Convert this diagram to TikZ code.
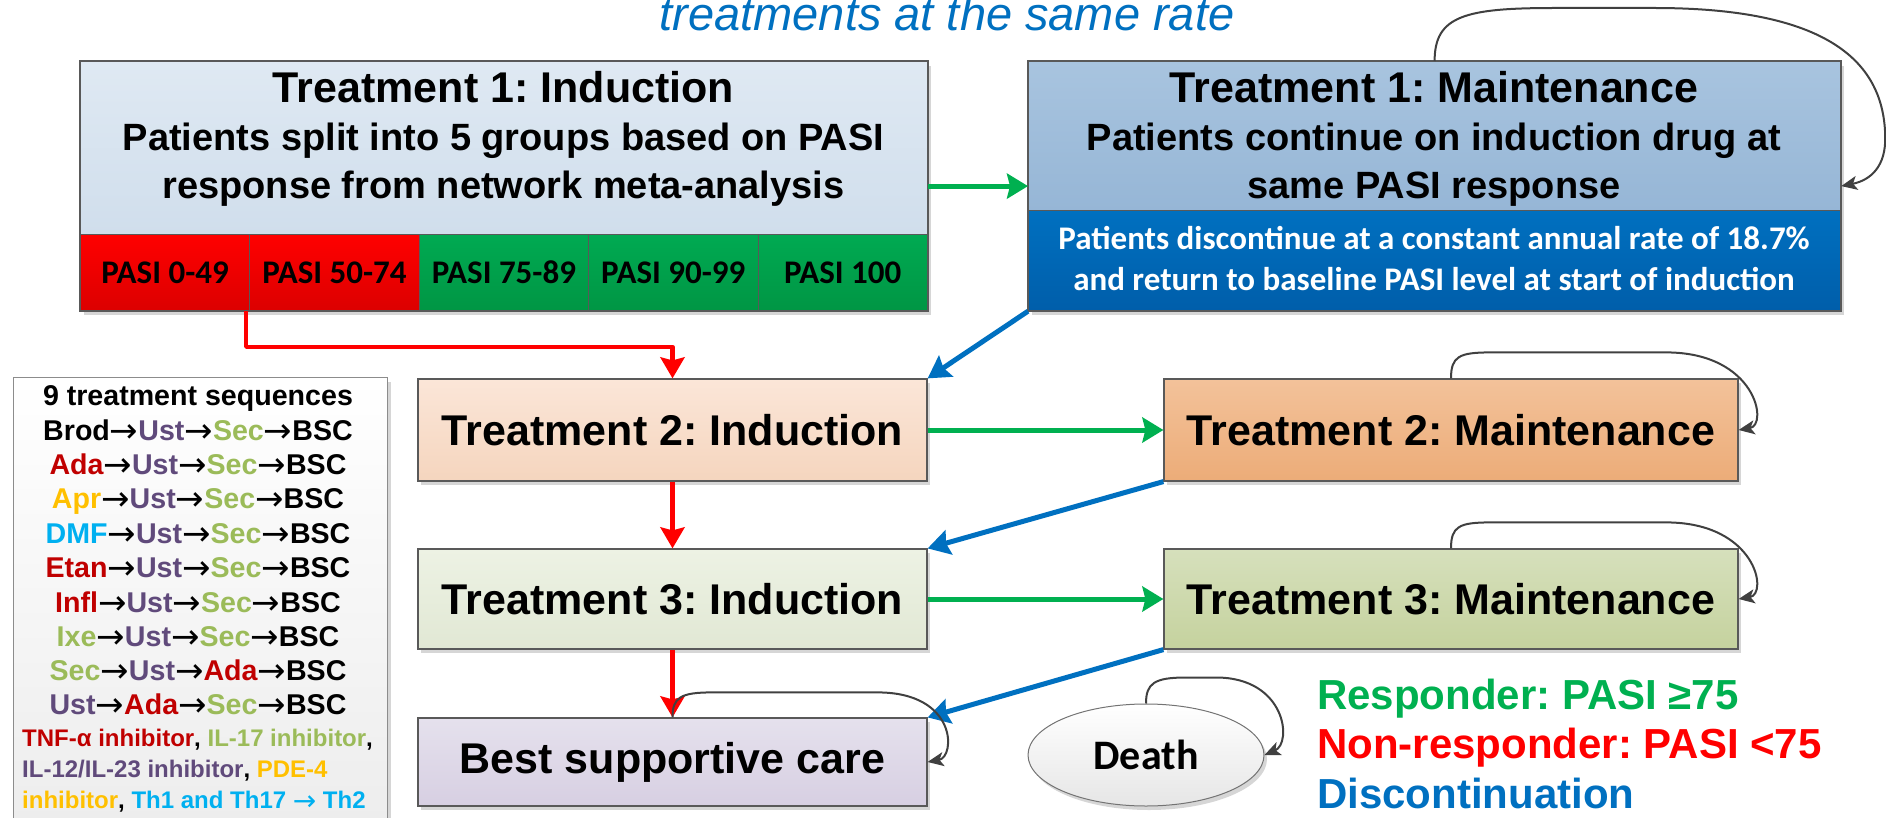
\documentclass[tikz,border=0pt]{standalone}
\usepackage{fontspec}
\setmainfont{Liberation Sans}
\newfontfamily\calib{Carlito}
\newfontfamily\djv{DejaVu Sans}
\usetikzlibrary{arrows.meta,shadows,calc,shapes.geometric}
\frenchspacing
\newcommand{\seqarrow}{{\djv\mdseries\fontsize{34}{34}\selectfont\raisebox{-2.5pt}{→}}}
\newcommand{\smallseqarrow}{{\djv\mdseries\fontsize{28}{28}\selectfont\raisebox{-2pt}{→}}}

\definecolor{ofblue}{RGB}{0,112,192}
\definecolor{ofgreen}{RGB}{0,176,80}
\definecolor{ofred}{RGB}{255,0,0}
\definecolor{colDred}{RGB}{192,0,0}
\definecolor{colPurp}{RGB}{96,74,123}
\definecolor{colOlive}{RGB}{155,187,89}
\definecolor{colGold}{RGB}{255,192,0}
\definecolor{colSky}{RGB}{0,176,240}
\definecolor{edgec}{RGB}{89,89,89}
\definecolor{loopc}{RGB}{64,64,64}
\definecolor{tia}{RGB}{223,233,243}
\definecolor{tib}{RGB}{208,222,236}
\definecolor{tma}{RGB}{168,196,223}
\definecolor{tmb}{RGB}{150,182,214}
\definecolor{tmc}{RGB}{0,94,170}
\definecolor{credA}{RGB}{255,0,0}
\definecolor{credB}{RGB}{220,0,0}
\definecolor{cgrnA}{RGB}{0,170,82}
\definecolor{cgrnB}{RGB}{0,150,68}
\definecolor{ttiA}{RGB}{251,230,216}
\definecolor{ttiB}{RGB}{245,213,190}
\definecolor{ttmA}{RGB}{243,194,154}
\definecolor{ttmB}{RGB}{236,172,120}
\definecolor{tthA}{RGB}{237,242,228}
\definecolor{tthB}{RGB}{225,232,212}
\definecolor{tt3mA}{RGB}{214,224,188}
\definecolor{tt3mB}{RGB}{197,210,158}
\definecolor{bscA}{RGB}{229,225,237}
\definecolor{bscB}{RGB}{215,207,226}
\definecolor{legB}{RGB}{236,236,236}
\definecolor{deathB}{RGB}{230,230,230}

\tikzset{
  shad/.style={drop shadow={shadow xshift=3pt,shadow yshift=-4pt,fill=black!16,opacity=1}},
  box/.style={rectangle, draw=edgec, line width=1.2pt, inner sep=0pt, shad},
  panel/.style={rectangle, draw=edgec, line width=0.8pt, inner sep=0pt},
  cellbox/.style={rectangle, draw=edgec, line width=0.8pt, inner sep=0pt, anchor=north west,
     minimum width=169.4pt, minimum height=76pt, font=\calib\fontsize{33}{40}\selectfont\bfseries},
  txt/.style={inner sep=0pt, anchor=base},
  bigtxt/.style={font=\fontsize{43}{50}\selectfont\bfseries},
  midtxt/.style={font=\fontsize{38}{48}\selectfont\bfseries},
  caltxt/.style={font=\calib\fontsize{33}{40}\selectfont\bfseries},
  seqtxt/.style={font=\fontsize{28.6}{34}\selectfont\bfseries},
  smalltxt/.style={font=\fontsize{24}{30}\selectfont\bfseries},
  legtxt/.style={inner sep=0pt, anchor=base west, font=\fontsize{42}{50}\selectfont\bfseries},
  greenarr/.style={draw=ofgreen, line width=5pt, -{Stealth[length=21pt,width=25pt,inset=3pt]}},
  redarr/.style={draw=ofred, line width=4.5pt, -{Stealth[length=21pt,width=24pt,inset=3pt]}},
  bluearr/.style={draw=ofblue, line width=5pt, -{Stealth[length=22pt,width=25pt,inset=3pt]}},
  loopline/.style={draw=loopc, line width=2pt, -{Stealth[length=16pt,width=14pt,inset=4pt]}},
}

\begin{document}
\begin{tikzpicture}[x=1pt,y=-1pt]
\useasboundingbox (0,0) rectangle (1886,818);

% title fragment
\node[txt, font=\fontsize{47}{56}\selectfont\itshape, text=ofblue] (title) at (947,31) {treatments at the same rate};

% ---------- Treatment 1: Induction ----------
\node[box, anchor=north west, minimum width=847pt, minimum height=249pt, fill=white] (t1i) at (80,61) {};
\node[panel, anchor=north west, minimum width=847pt, minimum height=173pt, top color=tia, bottom color=tib] (t1iup) at (80,61) {};
\node[cellbox, top color=credA, bottom color=credB] (c1) at (80,234) {PASI 0-49};
\node[cellbox, top color=credA, bottom color=credB] (c2) at (249.4,234) {PASI 50-74};
\node[cellbox, top color=cgrnA, bottom color=cgrnB] (c3) at (418.8,234) {PASI 75-89};
\node[cellbox, top color=cgrnA, bottom color=cgrnB] (c4) at (588.2,234) {PASI 90-99};
\node[cellbox, top color=cgrnA, bottom color=cgrnB] (c5) at (757.6,234) {PASI 100};
\draw[draw=edgec, line width=1.2pt] (t1i.north west) rectangle (t1i.south east);
\node[txt, bigtxt] (t1iL1) at (503.5,103) {Treatment 1: Induction};
\node[txt, midtxt] (t1iL2) at (503.5,151) {Patients split into 5 groups based on PASI};
\node[txt, midtxt] (t1iL3) at (503.5,199) {response from network meta-analysis};

% ---------- Treatment 1: Maintenance ----------
\node[box, anchor=north west, minimum width=812pt, minimum height=249pt, fill=white] (t1m) at (1028,61) {};
\node[panel, anchor=north west, minimum width=812pt, minimum height=149pt, top color=tma, bottom color=tmb] (t1mup) at (1028,61) {};
\node[panel, anchor=north west, minimum width=812pt, minimum height=100pt, top color=ofblue, bottom color=tmc] (t1mlow) at (1028,210) {};
\draw[draw=edgec, line width=1.2pt] (t1m.north west) rectangle (t1m.south east);
\node[txt, bigtxt] (t1mL1) at (1434,103) {Treatment 1: Maintenance};
\node[txt, midtxt] (t1mL2) at (1434,151) {Patients continue on induction drug at};
\node[txt, midtxt] (t1mL3) at (1434,199) {same PASI response};
\node[txt, caltxt, text=white] (t1mL4) at (1434,250) {Patients discontinue at a constant annual rate of 18.7\%};
\node[txt, caltxt, text=white] (t1mL5) at (1434,290) {and return to baseline PASI level at start of induction};

% ---------- Treatments 2 and 3, BSC ----------
\node[box, bigtxt, minimum width=509pt, minimum height=102pt, top color=ttiA, bottom color=ttiB] (t2i) at (672.5,430) {Treatment 2: Induction};
\node[box, bigtxt, minimum width=574pt, minimum height=102pt, top color=ttmA, bottom color=ttmB] (t2m) at (1451,430) {Treatment 2: Maintenance};
\node[box, bigtxt, minimum width=509pt, minimum height=100pt, top color=tthA, bottom color=tthB] (t3i) at (672.5,599) {Treatment 3: Induction};
\node[box, bigtxt, minimum width=574pt, minimum height=100pt, top color=tt3mA, bottom color=tt3mB] (t3m) at (1451,599) {Treatment 3: Maintenance};
\node[box, bigtxt, minimum width=509pt, minimum height=88pt, top color=bscA, bottom color=bscB] (bsc) at (672.5,762) {Best supportive care};

% Death
\node[ellipse, draw=black!55, line width=1pt, shad, minimum width=236pt, minimum height=102pt, inner sep=0pt,
      top color=white, bottom color=deathB, font=\calib\fontsize{42}{50}\selectfont\bfseries] (death) at (1146,755) {Death};

% ---------- left legend ----------
\node[rectangle, draw=black!45, line width=1.2pt, shad, anchor=north west, minimum width=374pt, minimum height=470pt,
      top color=white, bottom color=legB] (leg) at (13,377) {};
\node[txt, seqtxt] (s0) at (198,405) {9 treatment sequences};
\node[txt, seqtxt] (s1) at (198,440) {Brod\seqarrow{\color{colPurp}Ust}\seqarrow{\color{colOlive}Sec}\seqarrow BSC};
\node[txt, seqtxt] (s2) at (198,474) {{\color{colDred}Ada}\seqarrow{\color{colPurp}Ust}\seqarrow{\color{colOlive}Sec}\seqarrow BSC};
\node[txt, seqtxt] (s3) at (198,508) {{\color{colGold}Apr}\seqarrow{\color{colPurp}Ust}\seqarrow{\color{colOlive}Sec}\seqarrow BSC};
\node[txt, seqtxt] (s4) at (198,543) {{\color{colSky}DMF}\seqarrow{\color{colPurp}Ust}\seqarrow{\color{colOlive}Sec}\seqarrow BSC};
\node[txt, seqtxt] (s5) at (198,577) {{\color{colDred}Etan}\seqarrow{\color{colPurp}Ust}\seqarrow{\color{colOlive}Sec}\seqarrow BSC};
\node[txt, seqtxt] (s6) at (198,612) {{\color{colDred}Infl}\seqarrow{\color{colPurp}Ust}\seqarrow{\color{colOlive}Sec}\seqarrow BSC};
\node[txt, seqtxt] (s7) at (198,646) {{\color{colOlive}Ixe}\seqarrow{\color{colPurp}Ust}\seqarrow{\color{colOlive}Sec}\seqarrow BSC};
\node[txt, seqtxt] (s8) at (198,680) {{\color{colOlive}Sec}\seqarrow{\color{colPurp}Ust}\seqarrow{\color{colDred}Ada}\seqarrow BSC};
\node[txt, seqtxt] (s9) at (198,714) {{\color{colPurp}Ust}\seqarrow{\color{colDred}Ada}\seqarrow{\color{colOlive}Sec}\seqarrow BSC};
\node[inner sep=0pt, anchor=base west, smalltxt] (k1) at (22,746) {{\color{colDred}TNF-α inhibitor}, {\color{colOlive}IL-17 inhibitor},};
\node[inner sep=0pt, anchor=base west, smalltxt] (k2) at (22,777) {{\color{colPurp}IL-12/IL-23 inhibitor}, {\color{colGold}PDE-4}};
\node[inner sep=0pt, anchor=base west, smalltxt] (k3) at (22,808) {{\color{colGold}inhibitor}, {\color{colSky}Th1 and Th17 \smallseqarrow{} Th2}};

% ---------- right legend ----------
\node[legtxt, text=ofgreen] (lg1) at (1317,709) {Responder: PASI ≥75};
\node[legtxt, text=ofred] (lg2) at (1317,758) {Non-responder: PASI <75};
\node[legtxt, text=ofblue] (lg3) at (1317,808) {Discontinuation};

% ---------- connectors ----------
\draw[greenarr] (t1i.east) -- (t1i.east -| t1m.west);
\draw[greenarr] (t2i.east) -- (t2m.west);
\draw[greenarr] (t3i.east) -- (t3m.west);

\coordinate (rstart) at ($(c1.south east)+(-4,0)$);
\draw[redarr, line join=round] (rstart) -- ++(0,36) -| (t2i.north);
\draw[redarr] (t2i.south) -- (t3i.north);
\draw[redarr] (t3i.south) -- (bsc.north);

\draw[bluearr] (t1m.south west) -- (t2i.north east);
\draw[bluearr] (t2m.south west) -- (t3i.north east);
\draw[bluearr] (t3m.south west) -- (bsc.north east);

% self loops
\draw[loopline] (t1m.north) .. controls ($(t1m.north)+(0,-45)$) and ($(t1m.north)+(30,-53)$) .. ($(t1m.north)+(120,-53)$)
   -- ($(t1m.north)+(220,-53)$) .. controls ($(t1m.north)+(400,-53)$) and ($(t1m.east)+(45,-120)$) .. ($(t1m.east)+(44,-45)$)
   .. controls ($(t1m.east)+(43,-15)$) and ($(t1m.east)+(25,-5)$) .. (t1m.east);
\draw[loopline] (t2m.north) .. controls ($(t2m.north)+(0,-22)$) and ($(t2m.north)+(8,-26)$) .. ($(t2m.north)+(40,-26)$)
   -- ($(t2m.north)+(215,-26)$) .. controls ($(t2m.north)+(305,-26)$) and ($(t2m.east)+(30,-5)$) .. (t2m.east);
\draw[loopline] (t3m.north) .. controls ($(t3m.north)+(0,-22)$) and ($(t3m.north)+(8,-26)$) .. ($(t3m.north)+(40,-26)$)
   -- ($(t3m.north)+(215,-26)$) .. controls ($(t3m.north)+(305,-26)$) and ($(t3m.east)+(30,-5)$) .. (t3m.east);
\draw[loopline] (bsc.north) .. controls ($(bsc.north)+(0,-20)$) and ($(bsc.north)+(8,-25)$) .. ($(bsc.north)+(40,-25)$)
   -- ($(bsc.north)+(205,-25)$) .. controls ($(bsc.north)+(285,-25)$) and ($(bsc.east)+(28,-5)$) .. (bsc.east);
\draw[loopline] (death.north) .. controls ($(death.north)+(0,-20)$) and ($(death.north)+(8,-26)$) .. ($(death.north)+(40,-26)$)
   -- ($(death.north)+(70,-26)$) .. controls ($(death.north)+(140,-26)$) and ($(death.east)+(28,-12)$) .. (death.east);
\end{tikzpicture}
\end{document}
